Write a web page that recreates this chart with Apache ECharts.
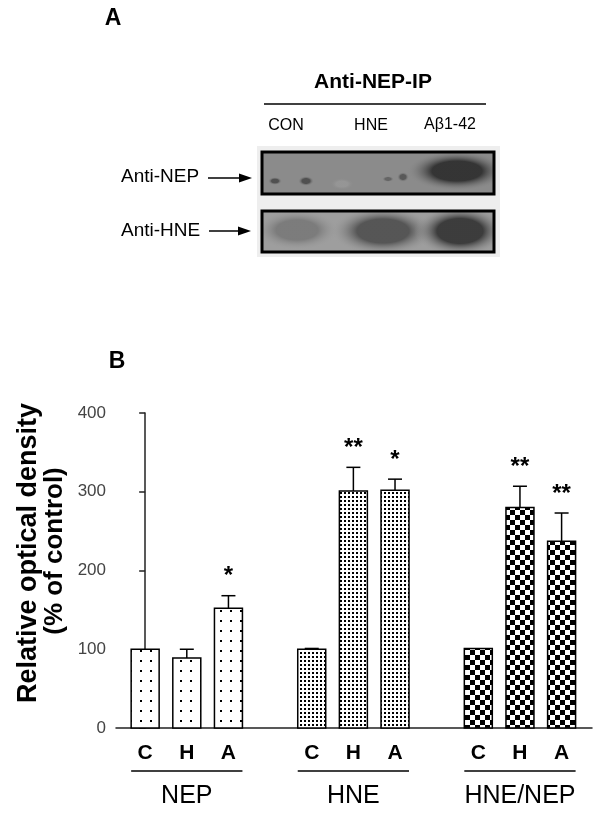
<!DOCTYPE html>
<html>
<head>
<meta charset="utf-8">
<script src="https://cdn.jsdelivr.net/npm/echarts@6/dist/echarts.min.js"></script>
<style>
html,body{margin:0;padding:0;background:#fff;}
#chart{width:604px;height:818px;}
</style>
</head>
<body>
<div id="chart"></div>
<script>
// ---- data ----
const conditions = ['C', 'H', 'A'];
const groups = ['NEP', 'HNE', 'HNE/NEP'];
const nepMean = [100, 89, 152];
const nepErr = [0, 11, 16];
const nepSig = ['', '', '*'];
const hneMean = [100, 301, 302];
const hneErr = [1, 30, 14];
const hneSig = ['', '**', '*'];
const ratioMean = [101, 280, 237];
const ratioErr = [0, 27, 36];
const ratioSig = ['', '**', '**'];
const yTicks = [0, 100, 200, 300, 400];
const groupSlots = [0, 4, 8];
const blotLanes = ['CON', 'HNE', 'A\u03b21-42'];
const blotRows = ['Anti-NEP', 'Anti-HNE'];

const FONT = "'Liberation Sans', Arial, sans-serif";

// ---- fill patterns ----
function dotPattern(period, size) {
  const c = document.createElement('canvas');
  c.width = period; c.height = period;
  const ctx = c.getContext('2d');
  ctx.fillStyle = '#fff'; ctx.fillRect(0, 0, period, period);
  ctx.fillStyle = '#000'; ctx.fillRect(0, 0, size, size);
  return { image: c, repeat: 'repeat' };
}
function checkerPattern(cell) {
  const c = document.createElement('canvas');
  c.width = cell * 2; c.height = cell * 2;
  const ctx = c.getContext('2d');
  ctx.fillStyle = '#fff'; ctx.fillRect(0, 0, cell * 2, cell * 2);
  ctx.fillStyle = '#000';
  ctx.fillRect(0, 0, cell, cell);
  ctx.fillRect(cell, cell, cell, cell);
  return { image: c, repeat: 'repeat' };
}
const patterns = [dotPattern(10, 2), dotPattern(4, 2), checkerPattern(5)];

function groupData(g, means, errs) {
  return means.map((m, i) => [groupSlots[g] + i, m, errs[i]]);
}

function barRenderer(pattern, sig) {
  return function (params, api) {
    const x = api.value(0), m = api.value(1), e = api.value(2);
    const base = api.coord([x, 0]);
    const top = api.coord([x, m]);
    const cap = api.coord([x, m + e]);
    const bw = api.size([0.672, 0])[0];
    const children = [{
      type: 'rect',
      shape: { x: base[0] - bw / 2, y: top[1], width: bw, height: base[1] - top[1] },
      style: { fill: pattern, stroke: '#000', lineWidth: 1.5 }
    }];
    if (e > 0) {
      children.push({ type: 'line', shape: { x1: top[0], y1: top[1], x2: cap[0], y2: cap[1] }, style: { stroke: '#000', lineWidth: 1.5 } });
      children.push({ type: 'line', shape: { x1: cap[0] - 7, y1: cap[1], x2: cap[0] + 7, y2: cap[1] }, style: { stroke: '#000', lineWidth: 1.5 } });
    }
    const s = sig[params.dataIndex];
    if (s) {
      children.push({ type: 'text', x: cap[0], y: cap[1] - 19,
        style: { text: s, font: 'bold 24px ' + FONT, fill: '#000', textAlign: 'center', textVerticalAlign: 'middle', align: 'center', verticalAlign: 'middle' } });
    }
    children.push({ type: 'text', x: base[0], y: base[1] + 25,
      style: { text: conditions[params.dataIndex], font: 'bold 21px ' + FONT, fill: '#000', textAlign: 'center', textVerticalAlign: 'middle', align: 'center', verticalAlign: 'middle' } });
    return { type: 'group', children: children };
  };
}

function groupLabelRenderer(params, api) {
  const x = api.value(0);
  const c = api.coord([x, 0]);
  const l = api.coord([x - 1, 0]);
  const r = api.coord([x + 1, 0]);
  return { type: 'group', children: [
    { type: 'line', shape: { x1: l[0] - 14, y1: c[1] + 43, x2: r[0] + 14, y2: c[1] + 43 }, style: { stroke: '#000', lineWidth: 1.5 } },
    { type: 'text', x: c[0], y: c[1] + 68,
      style: { text: groups[params.dataIndex], font: '25px ' + FONT, fill: '#000', textAlign: 'center', textVerticalAlign: 'middle', align: 'center', verticalAlign: 'middle' } }
  ]};
}

// ---- blot (panel A) graphic ----
function band(cx, cy, rx, ry, color, fade) {
  return {
    type: 'circle', x: cx, y: cy, scaleX: rx / ry, scaleY: 1,
    shape: { cx: 0, cy: 0, r: ry },
    style: { fill: { type: 'radial', x: 0.5, y: 0.5, r: 0.5, colorStops: [
      { offset: 0, color: color }, { offset: 0.5, color: color }, { offset: 1, color: fade } ] } },
    silent: true
  };
}
function txt(t, x, y, font, align) {
  return { type: 'text', x: x, y: y, style: { text: t, font: font, fill: '#000',
    textAlign: align || 'center', textVerticalAlign: 'middle', align: align || 'center', verticalAlign: 'middle' } };
}
function arrow(x1, x2, y) {
  return [
    { type: 'line', shape: { x1: x1, y1: y, x2: x2 - 10, y2: y }, style: { stroke: '#000', lineWidth: 1.5 } },
    { type: 'polygon', shape: { points: [[x2, y], [x2 - 13, y - 4.5], [x2 - 13, y + 4.5]] }, style: { fill: '#000' } }
  ];
}
const laneX = [286, 371, 450];
const graphics = [
  txt('A', 113, 19, 'bold 23px ' + FONT),
  txt('Anti-NEP-IP', 373, 82, 'bold 21px ' + FONT),
  { type: 'line', shape: { x1: 264, y1: 104, x2: 486, y2: 104 }, style: { stroke: '#000', lineWidth: 1.5 } },
  txt(blotLanes[0], laneX[0], 126, '16px ' + FONT),
  txt(blotLanes[1], laneX[1], 126, '16px ' + FONT),
  txt(blotLanes[2], laneX[2], 125, '16px ' + FONT),
  { type: 'rect', shape: { x: 257, y: 146, width: 243, height: 111 }, style: { fill: '#eeeeee' } },
  // blot 1
  { type: 'group', clipPath: { type: 'rect', shape: { x: 262, y: 152, width: 232, height: 42 } }, children: [
    { type: 'rect', shape: { x: 262, y: 152, width: 232, height: 42 }, style: { fill: '#8b8b8b' } },
    band(275, 181, 7, 4, 'rgba(70,70,70,0.85)', 'rgba(139,139,139,0)'),
    band(306, 181, 8, 5, 'rgba(70,70,70,0.85)', 'rgba(139,139,139,0)'),
    band(388, 179, 6, 3, 'rgba(85,85,85,0.7)', 'rgba(139,139,139,0)'),
    band(403, 177, 6, 5, 'rgba(80,80,80,0.85)', 'rgba(139,139,139,0)'),
    band(342, 184, 12, 6, 'rgba(160,160,160,0.5)', 'rgba(139,139,139,0)'),
    band(457, 171, 50, 20, 'rgba(48,48,48,0.95)', 'rgba(139,139,139,0)')
  ]},
  { type: 'rect', shape: { x: 262, y: 152, width: 232, height: 42 }, style: { fill: 'none', stroke: '#000', lineWidth: 3 } },
  // blot 2
  { type: 'group', clipPath: { type: 'rect', shape: { x: 262, y: 211, width: 232, height: 41 } }, children: [
    { type: 'rect', shape: { x: 262, y: 211, width: 232, height: 41 }, style: { fill: '#9e9e9e' } },
    band(297, 230, 42, 20, 'rgba(122,122,122,0.95)', 'rgba(158,158,158,0)'),
    band(383, 231, 52, 24, 'rgba(82,82,82,0.95)', 'rgba(158,158,158,0)'),
    band(460, 231, 46, 25, 'rgba(55,55,55,0.95)', 'rgba(158,158,158,0)')
  ]},
  { type: 'rect', shape: { x: 262, y: 211, width: 232, height: 41 }, style: { fill: 'none', stroke: '#000', lineWidth: 3 } },
  txt(blotRows[0], 121, 177, '19px ' + FONT, 'left'),
  txt(blotRows[1], 121, 231, '19px ' + FONT, 'left'),
  ...arrow(208, 252, 178),
  ...arrow(209, 251, 231),
  txt('B', 117, 362, 'bold 23px ' + FONT),
  { type: 'text', x: 29, y: 553, rotation: Math.PI / 2,
    style: { text: 'Relative optical density', font: 'bold 27px ' + FONT, fill: '#000', textAlign: 'center', textVerticalAlign: 'middle', align: 'center', verticalAlign: 'middle' } },
  { type: 'text', x: 55, y: 551, rotation: Math.PI / 2,
    style: { text: '(% of control)', font: 'bold 26px ' + FONT, fill: '#000', textAlign: 'center', textVerticalAlign: 'middle', align: 'center', verticalAlign: 'middle' } }
];

const chart = echarts.init(document.getElementById('chart'), null, { renderer: 'canvas' });
chart.setOption({
  animation: false,
  backgroundColor: '#fff',
  grid: { left: 116, right: 12, top: 413, bottom: 90 },
  xAxis: {
    type: 'value', min: -0.7, max: 10.73,
    axisLine: { show: true, lineStyle: { color: '#222', width: 1.5 } },
    axisTick: { show: false }, axisLabel: { show: false }, splitLine: { show: false }
  },
  yAxis: {
    type: 'value', min: yTicks[0], max: yTicks[yTicks.length - 1], interval: 100,
    axisLine: { show: true, lineStyle: { color: '#222', width: 1.5 } },
    axisTick: { show: true, inside: false, length: 6, lineStyle: { color: '#222', width: 1.5 } },
    axisLabel: { fontSize: 17, color: '#444', fontFamily: FONT, margin: 10 },
    splitLine: { show: false }
  },
  graphic: graphics,
  series: [
    { type: 'custom', name: groups[0], renderItem: barRenderer(patterns[0], nepSig), data: groupData(0, nepMean, nepErr), clip: false },
    { type: 'custom', name: groups[1], renderItem: barRenderer(patterns[1], hneSig), data: groupData(1, hneMean, hneErr), clip: false },
    { type: 'custom', name: groups[2], renderItem: barRenderer(patterns[2], ratioSig), data: groupData(2, ratioMean, ratioErr), clip: false },
    { type: 'custom', name: 'groups', renderItem: groupLabelRenderer, data: groupSlots.map(s => [s + 1, 0]), clip: false }
  ]
});
</script>
</body>
</html>
